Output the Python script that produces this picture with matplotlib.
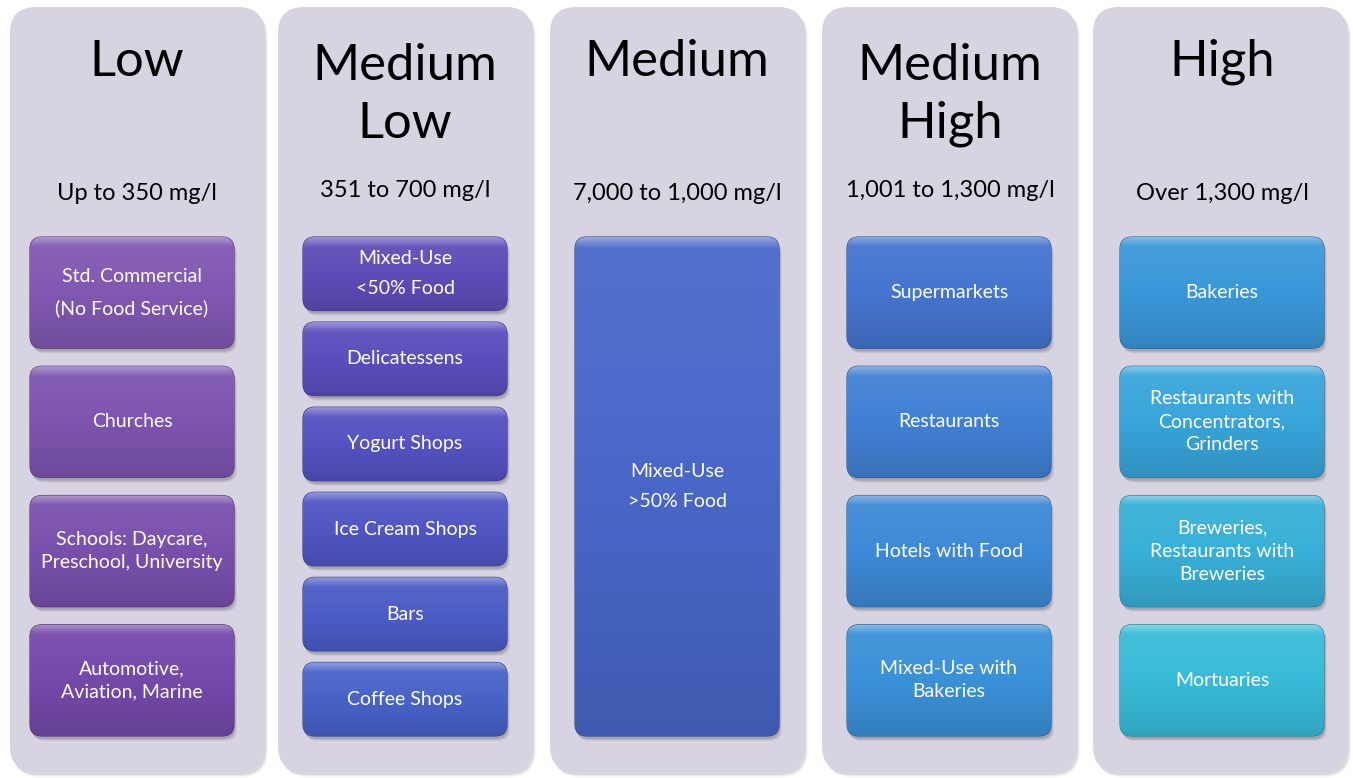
import matplotlib
matplotlib.use("Agg")
import matplotlib.pyplot as plt
from matplotlib.patches import FancyBboxPatch
import matplotlib.colors as mcolors
import numpy as np

plt.rcParams['font.family'] = ['Lato', 'DejaVu Sans']

# ---- content ----
levels = ["Low", "Medium\nLow", "Medium", "Medium\nHigh", "High"]
ranges = ["Up to 350 mg/l", "351 to 700 mg/l", "7,000 to 1,000 mg/l",
          "1,001 to 1,300 mg/l", "Over 1,300 mg/l"]
low_items = ["Std. Commercial\n(No Food Service)", "Churches",
             "Schools: Daycare,\nPreschool, University", "Automotive,\nAviation, Marine"]
medium_low_items = ["Mixed-Use\n<50% Food", "Delicatessens", "Yogurt Shops",
                    "Ice Cream Shops", "Bars", "Coffee Shops"]
medium_items = ["Mixed-Use\n>50% Food"]
medium_high_items = ["Supermarkets", "Restaurants", "Hotels with Food",
                     "Mixed-Use with\nBakeries"]
high_items = ["Bakeries", "Restaurants with\nConcentrators,\nGrinders",
              "Breweries,\nRestaurants with\nBreweries", "Mortuaries"]
columns_items = [low_items, medium_low_items, medium_items, medium_high_items, high_items]
wide_spaced = {"Std. Commercial\n(No Food Service)", "Mixed-Use\n<50% Food", "Mixed-Use\n>50% Food"}

item_colors = [
    ["#8158b2", "#7d54b0", "#7950ad", "#7449aa"],
    ["#5f4cb8", "#5a4ebd", "#5551c0", "#5056c3", "#4b5cc6", "#4862c8"],
    ["#4968c9"],
    ["#4575d0", "#4180d4", "#3e8ad7", "#3b91d8"],
    ["#3a98da", "#38a5da", "#38b0d8", "#38bcd9"],
]

# ---- layout ----
W, H = 1353, 778
fig = plt.figure(figsize=(W / 100, H / 100), dpi=100)
ax = fig.add_axes([0, 0, 1, 1])
ax.set_xlim(0, W)
ax.set_ylim(H, 0)
ax.axis('off')
fig.patch.set_facecolor('white')

col_left = [10, 278, 550, 822, 1093]
col_w = 254
col_top, col_bot = 7, 772
box_left = [30, 303, 575, 847, 1120]
header_cx = [137, 405, 677, 950, 1222]
box_w = 204
area_top, area_bot = 237, 736


def shade(c, f):
    r = np.array(mcolors.to_rgb(c))
    if f >= 0:
        return tuple(r + (1 - r) * f)
    return tuple(r * (1 + f))


def gradient_box(x, y, w, h, color, rad):
    # shadow
    for i, a in enumerate([0.10, 0.08, 0.06]):
        sh = FancyBboxPatch((x + 1 + i, y + 3 + i), w, h,
                            boxstyle=f"round,pad=0,rounding_size={rad}",
                            fc='black', ec='none', alpha=a, zorder=2)
        ax.add_patch(sh)
    p = FancyBboxPatch((x, y), w, h, boxstyle=f"round,pad=0,rounding_size={rad}",
                       fc=color, ec=shade(color, -0.35), lw=0.8, zorder=3)
    ax.add_patch(p)
    n = 200
    t = np.linspace(0, 1, n)
    hl = 10.0 / h
    cols = []
    for tt in t:
        if tt < hl:
            f = 0.35 * (1 - tt / hl) + 0.05
        else:
            f = 0.05 - 0.18 * ((tt - hl) / (1 - hl)) ** 1.5
        cols.append(shade(color, f))
    img = np.array(cols).reshape(n, 1, 3)
    im = ax.imshow(img, extent=(x, x + w, y + h, y), aspect='auto', zorder=3.5,
                   interpolation='bilinear')
    im.set_clip_path(p)


for ci in range(5):
    x0 = col_left[ci]
    # column shadow
    for i, a in enumerate([0.07, 0.05, 0.03]):
        ax.add_patch(FancyBboxPatch((x0 + 2 + i, col_top + 3 + i), col_w, col_bot - col_top,
                                    boxstyle="round,pad=0,rounding_size=26",
                                    fc='black', ec='none', alpha=a, zorder=0))
    ax.add_patch(FancyBboxPatch((x0, col_top), col_w, col_bot - col_top,
                                boxstyle="round,pad=0,rounding_size=26",
                                fc='#d7d3e0', ec='none', zorder=1))
    cx = header_cx[ci]
    title = levels[ci]
    if "\n" in title:
        a, b = title.split("\n")
        ax.text(cx, 66, a, ha='center', va='center', fontsize=36.5, color='black', zorder=5)
        ax.text(cx, 124, b, ha='center', va='center', fontsize=36.5, color='black', zorder=5)
        ry = 190
    else:
        ax.text(cx, 62, title, ha='center', va='center', fontsize=36.5, color='black', zorder=5)
        ry = 193
    ax.text(cx, ry, ranges[ci], ha='center', va='center',
            fontsize=17, color='black', zorder=5)

    items = columns_items[ci]
    n = len(items)
    gap = 18 if n <= 4 else 11.5
    if n == 1:
        gap = 0
    bh = (area_bot - area_top - gap * (n - 1)) / n
    bx = box_left[ci]
    for k, label in enumerate(items):
        by = area_top + k * (bh + gap)
        gradient_box(bx, by, box_w, bh, item_colors[ci][k], 12)
        ls = 1.95 if label in wide_spaced else 1.42
        ax.text(bx + box_w / 2, by + bh / 2, label, ha='center', va='center',
                fontsize=14, color='white', linespacing=ls, zorder=6)

fig.savefig("out.png", dpi=100, facecolor='white')
